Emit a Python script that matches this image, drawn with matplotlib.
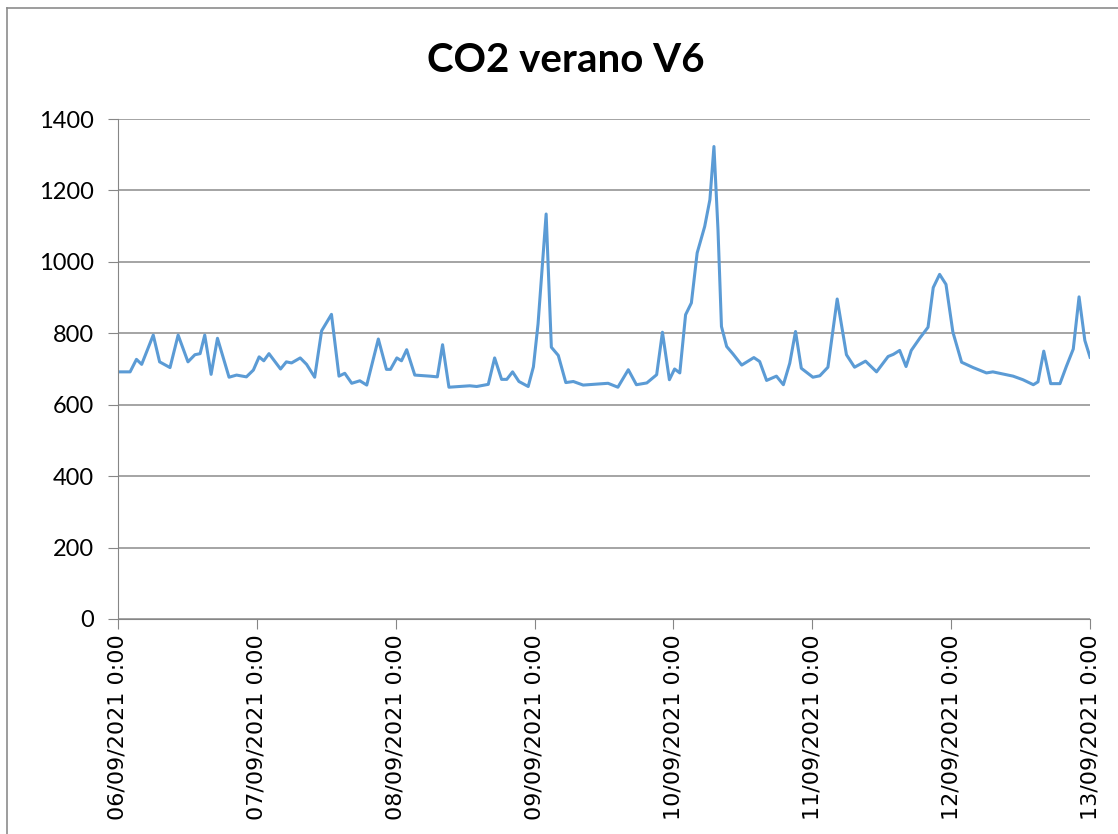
import matplotlib
matplotlib.use("Agg")
import matplotlib.pyplot as plt
from matplotlib.lines import Line2D

# horas desde 06/09/2021 0:00
hours = [0.0, 2.1, 3.2, 4.1, 6.1, 7.2, 9.0, 10.4, 12.1, 13.3, 14.2, 15.0, 16.1, 17.2,
         19.2, 20.5, 22.2, 23.4, 24.4, 25.2, 26.1, 28.1, 29.1, 30.0, 31.5, 32.6, 34.0,
         35.2, 36.9, 38.2, 39.2, 40.4, 41.8, 43.0, 45.0, 46.4, 47.1, 48.2, 49.0, 49.9,
         51.3, 53.9, 55.2, 56.1, 57.2, 60.8, 62.0, 64.0, 65.1, 66.3, 67.2, 68.2, 69.3,
         70.9, 71.8, 72.6, 74.0, 74.9, 76.1, 77.4, 78.7, 80.4, 84.7, 86.4, 88.2, 89.6,
         91.4, 93.1, 94.1, 95.3, 96.2, 97.1, 98.1, 99.1, 100.1, 101.4, 102.3, 103.0,
         103.7, 104.3, 105.2, 106.3, 107.8, 109.9, 110.9, 112.1, 113.8, 115.0, 116.1,
         117.1, 118.1, 120.1, 121.3, 122.7, 124.3, 125.9, 127.3, 129.2, 131.1, 133.1,
         134.0, 135.1, 136.2, 137.1, 138.6, 140.0, 140.9, 142.0, 143.1, 144.3, 145.8,
         147.8, 150.1, 151.2, 154.7, 156.4, 158.2, 159.0, 160.0, 161.2, 162.8, 163.9,
         165.1, 166.1, 167.1, 168.0]
co2 = [692, 692, 727, 713, 795, 720, 704, 795, 720, 740, 743, 795, 685, 786,
       677, 683, 678, 697, 734, 723, 743, 700, 720, 717, 731, 713, 677,
       807, 853, 680, 688, 660, 667, 655, 784, 699, 699, 731, 723, 754,
       683, 680, 678, 768, 649, 653, 651, 657, 731, 671, 671, 692, 665,
       651, 706, 826, 1134, 761, 738, 662, 665, 655, 660, 649, 698, 656,
       661, 684, 803, 670, 700, 689, 852, 885, 1025, 1099, 1174, 1323,
       1090, 819, 763, 742, 711, 732, 721, 668, 680, 656, 716,
       805, 702, 677, 681, 705, 896, 740, 705, 722, 692, 735,
       741, 752, 707, 752, 787, 817, 928, 965, 937, 803, 719,
       704, 689, 692, 680, 670, 656, 664, 750, 659, 659, 707,
       756, 902, 780, 733]

tick_hours = [0, 24, 48, 72, 96, 120, 144, 168]
tick_labels = ["06/09/2021 0:00", "07/09/2021 0:00", "08/09/2021 0:00", "09/09/2021 0:00",
               "10/09/2021 0:00", "11/09/2021 0:00", "12/09/2021 0:00", "13/09/2021 0:00"]

fig = plt.figure(figsize=(11.18, 8.34), dpi=100)
ax = fig.add_axes([0.1055, 0.2578, 0.8695, 0.5995])

ax.plot(hours, co2, color="#5b9bd5", linewidth=2.2, solid_joinstyle="round")

ax.set_xlim(0, 168)
ax.set_ylim(0, 1400)
ax.set_yticks(range(0, 1401, 200))
ax.set_xticks(tick_hours)
ax.set_xticklabels(tick_labels, rotation=90)
ax.tick_params(axis="x", labelsize=16, length=7, color="#868686", pad=4)
ax.tick_params(axis="y", labelsize=17, length=7, color="#868686", pad=10)
for lab in ax.get_yticklabels():
    lab.set_family("Lato")
ax.grid(axis="y", color="#8c8c8c", linewidth=1.1)
ax.set_axisbelow(True)
for s in ["top", "right"]:
    ax.spines[s].set_visible(False)
ax.spines["left"].set_color("#868686")
ax.spines["bottom"].set_color("#868686")

fig.text(0.506, 0.928, "CO2 verano V6", ha="center", va="center",
         fontsize=29, fontweight="bold", family="Lato")

# borde del área del gráfico (solo arriba e izquierda visibles)
fig.lines.append(Line2D([0.006, 1.0], [0.990, 0.990], transform=fig.transFigure,
                        color="#8c8c8c", linewidth=1.2))
fig.lines.append(Line2D([0.006, 0.006], [0.0, 0.990], transform=fig.transFigure,
                        color="#8c8c8c", linewidth=1.2))

fig.savefig("out.png", dpi=100)
